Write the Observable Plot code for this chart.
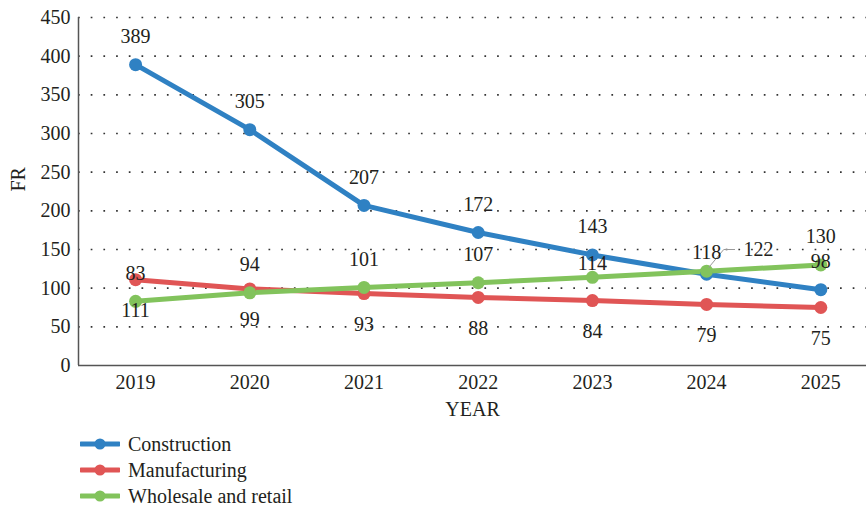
<!DOCTYPE html>
<html>
<head>
<meta charset="utf-8">
<script src="https://cdn.jsdelivr.net/npm/d3@7"></script>
<script src="https://cdn.jsdelivr.net/npm/@observablehq/plot@0.6"></script>
<style>
  body { margin: 0; background: #fff; font-family: "Liberation Serif", "Times New Roman", serif; color: #231f20; }
  #legend { padding: 11px 0 0 80px; }
  .row { display: flex; align-items: center; height: 26px; font-size: 20px; }
  .row svg { margin-right: 8px; }
</style>
</head>
<body>
<div id="chart"></div>
<div id="legend"></div>
<script>
const years = [2019, 2020, 2021, 2022, 2023, 2024, 2025];
const seriesNames = ["Construction", "Manufacturing", "Wholesale and retail"];
const construction = [389, 305, 207, 172, 143, 118, 98];
const manufacturing = [111, 99, 93, 88, 84, 79, 75];
const wholesale = [83, 94, 101, 107, 114, 122, 130];
const colors = ["#2f81c3", "#e05555", "#82c35c"];
const yTicks = [0, 50, 100, 150, 200, 250, 300, 350, 400, 450];

const valuesBySeries = [construction, manufacturing, wholesale];
const data = [];
seriesNames.forEach((s, i) => years.forEach((y, j) => data.push({series: s, year: y, value: valuesBySeries[i][j]})));

const color = {domain: seriesNames, range: colors};
const textColor = "#231f20";
const font = "'Liberation Serif', 'Times New Roman', serif";

// label placement as in the original: construction and wholesale above, manufacturing below,
// wholesale 2024 moved right with a leader line
const labelDy = d => {
  if (d.series === "Manufacturing") return 31;
  if (d.series === "Wholesale and retail" && d.year === 2023) return -14;
  if (d.series === "Construction" && d.year === 2024) return -22;
  return -28;
};
const inPlace = data.filter(d => !(d.series === "Wholesale and retail" && d.year === 2024));
const moved = data.filter(d => d.series === "Wholesale and retail" && d.year === 2024);

const chart = Plot.plot({
  width: 866,
  height: 420,
  marginLeft: 78,
  marginRight: 0,
  marginTop: 17,
  marginBottom: 55,
  style: {fontFamily: font, fontSize: "20px", color: textColor, background: "#fff"},
  x: {domain: [2018.5, 2025.4]},
  y: {domain: [0, 450]},
  color,
  marks: [
    Plot.gridY(yTicks.filter(t => t > 0), {stroke: "#333", strokeOpacity: 1, strokeWidth: 1.7, strokeDasharray: "1.7,11"}),
    Plot.ruleY([0], {stroke: "#555", strokeWidth: 1.5}),
    Plot.ruleX([2018.5], {stroke: "#555", strokeWidth: 1.5}),
    Plot.axisY({ticks: yTicks, tickSize: 0, tickPadding: 8, label: null, fontSize: 20, fill: textColor}),
    Plot.axisX({ticks: years, tickFormat: "d", tickSize: 0, tickPadding: 9, label: null, fontSize: 20, fill: textColor}),
    Plot.text(["FR"], {frameAnchor: "left", dx: -60, rotate: -90, fontSize: 20, fill: textColor}),
    Plot.text(["YEAR"], {frameAnchor: "bottom", dy: 50, fontSize: 20, fill: textColor}),
    Plot.line(data, {x: "year", y: "value", stroke: "series", z: "series", strokeWidth: 5}),
    Plot.dot(data, {x: "year", y: "value", fill: "series", r: 6.5}),
    Plot.line(moved.flatMap(d => [
      {x: d.year + 0.02, y: d.value + 5},
      {x: d.year + 0.15, y: d.value + 28},
      {x: d.year + 0.245, y: d.value + 28}
    ]), {x: "x", y: "y", stroke: "#999", strokeWidth: 1}),
    ...[31, -14, -22, -28].map(off =>
      Plot.text(inPlace.filter(d => labelDy(d) === off), {x: "year", y: "value", text: d => String(d.value), dy: off, fontSize: 20, fill: textColor})
    ),
    Plot.text(moved, {x: "year", y: "value", text: d => String(d.value), dx: 52, dy: -22, fontSize: 20, fill: textColor})
  ]
});
document.getElementById("chart").append(chart);

const legend = document.getElementById("legend");
seriesNames.forEach((s, i) => {
  const row = document.createElement("div");
  row.className = "row";
  row.innerHTML = `<svg width="40" height="14"><line x1="1" x2="39" y1="7" y2="7" stroke="${colors[i]}" stroke-width="5" stroke-linecap="round"/><circle cx="20" cy="7" r="5.5" fill="${colors[i]}"/></svg><span>${s}</span>`;
  legend.append(row);
});
</script>
</body>
</html>
